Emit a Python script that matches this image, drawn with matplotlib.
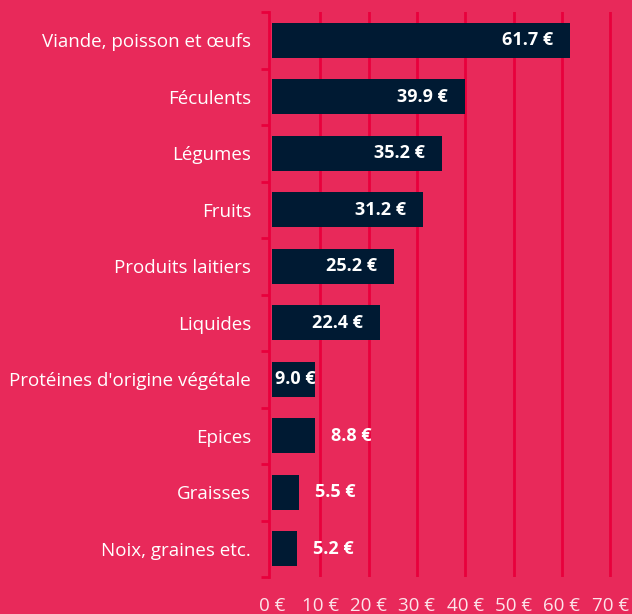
import matplotlib.pyplot as plt
from matplotlib.ticker import FixedLocator

categories = [
    "Viande, poisson et œufs",
    "Féculents",
    "Légumes",
    "Fruits",
    "Produits laitiers",
    "Liquides",
    "Protéines d'origine végétale",
    "Epices",
    "Graisses",
    "Noix, graines etc.",
]
values = [61.7, 39.9, 35.2, 31.2, 25.2, 22.4, 9.0, 8.8, 5.5, 5.2]
x_ticks = [0, 10, 20, 30, 40, 50, 60, 70]

BG = "#E8295A"
BAR = "#001A33"
GRID = "#E8003C"

plt.rcParams["font.family"] = ["Open Sans", "DejaVu Sans"]

fig = plt.figure(figsize=(6.32, 6.14), dpi=100, facecolor=BG)
ax = fig.add_axes([272 / 632, 1 - 577 / 614, 1 - 272 / 632, 565 / 614])
ax.set_facecolor(BG)

n = len(categories)
ypos = list(range(n))
ax.barh(ypos, values, height=0.62, color=BAR, zorder=3)
ax.set_ylim(n - 0.5, -0.5)
ax.set_xlim(0, 74.5)

for y, v in zip(ypos, values):
    label = f"{v:.1f} €"
    if v >= 20:
        ax.annotate(label, (v, y), xytext=(-17, 0), textcoords="offset pixels",
                    ha="right", va="center", color="white", fontsize=13,
                    fontweight="bold", zorder=4)
    elif v >= 9:
        ax.annotate(label, (0, y), xytext=(3, 0), textcoords="offset pixels",
                    ha="left", va="center", color="white", fontsize=13,
                    fontweight="bold", zorder=4)
    else:
        ax.annotate(label, (v, y), xytext=(16, 0), textcoords="offset pixels",
                    ha="left", va="center", color="white", fontsize=13,
                    fontweight="bold", zorder=4)

# grid lines
for t in x_ticks[1:]:
    ax.axvline(t, color=GRID, linewidth=2, zorder=1)

ax.set_xticks(x_ticks)
ax.set_xticklabels([f"{t} €" for t in x_ticks])
ax.tick_params(axis="x", length=0, pad=14.5, labelsize=13.5, labelcolor="#FCE4EA")

ax.set_yticks(ypos)
ax.set_yticklabels(categories)
ax.tick_params(axis="y", which="major", length=0, pad=13, labelsize=13.5,
               labelcolor="white")
ax.yaxis.set_minor_locator(FixedLocator([i - 0.5 for i in range(n + 1)]))
ax.tick_params(axis="y", which="minor", length=6, width=2, color=GRID)

for s in ["top", "right", "bottom"]:
    ax.spines[s].set_visible(False)
ax.spines["left"].set_color(GRID)
ax.spines["left"].set_linewidth(2)
ax.spines["left"].set_position(("outward", 2))

fig.savefig("out.png", dpi=100, facecolor=BG)
